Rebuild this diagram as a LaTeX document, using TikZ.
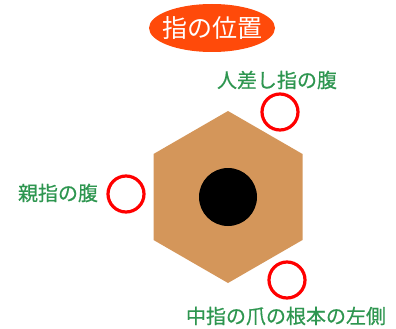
\documentclass[tikz,border=0pt]{standalone}
\usepackage{fontspec}
\usetikzlibrary{shapes.geometric}
\newfontfamily\cjk{Noto Sans CJK JP}
\newfontfamily\cjkb[FakeBold=0.6]{Noto Sans CJK JP}
\definecolor{hexfill}{HTML}{D4965A}
\definecolor{labgreen}{HTML}{2E9650}
\definecolor{titlered}{HTML}{FF4A0A}
\begin{document}
\begin{tikzpicture}[x=1pt,y=-1pt,
  ring/.style={circle,draw=red,line width=3.2pt,minimum size=36pt,inner sep=0pt},
  lab/.style={text=labgreen,font=\cjkb\fontsize{20}{20}\selectfont,inner sep=0pt}]
\useasboundingbox (0,0) rectangle (396,329);
% title
\node[ellipse,fill=titlered,minimum width=126pt,minimum height=48pt,inner sep=0pt] (title) at (212,28) {};
\node[text=white,font=\cjk\fontsize{25}{25}\selectfont] (tt) at (title.center) {指の位置};
% hexagon
\coordinate (hc) at (228,197);
\fill[hexfill] (228,111) -- (302.5,154) -- (302.5,240) -- (228,283) -- (153.5,240) -- (153.5,154) -- cycle;
\node[circle,fill=black,minimum size=58pt,inner sep=0pt] (hole) at (hc) {};
% rings
\node[ring] (r1) at (280,112) {};
\node[ring] (r2) at (126,194) {};
\node[ring] (r3) at (287,280) {};
% labels
\node[lab] (l1) at (277,80) {人差し指の腹};
\node[lab] (l2) at (58,193) {親指の腹};
\node[lab] (l3) at (286,316) {中指の爪の根本の左側};
\end{tikzpicture}
\end{document}
